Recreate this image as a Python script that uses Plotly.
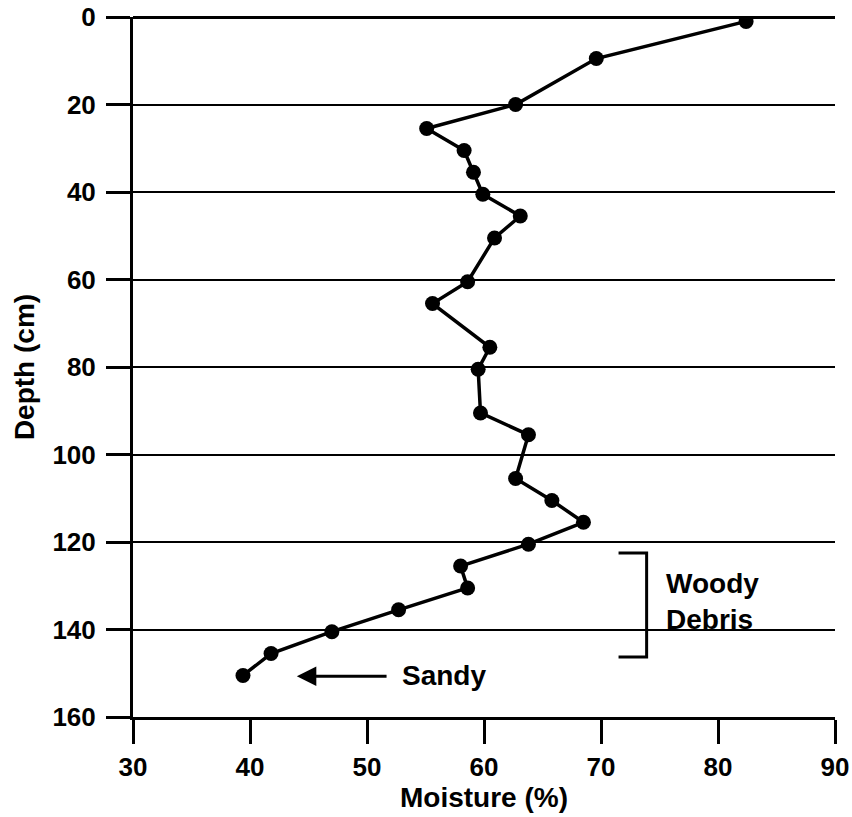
import plotly.graph_objects as go

# Soil moisture profile: depth below surface (cm) vs. moisture content (%)
depth_cm = [1, 9.5, 20, 25.5, 30.5, 35.5, 40.5, 45.5, 50.5, 60.5, 65.5, 75.5,
            80.5, 90.5, 95.5, 105.5, 110.5, 115.5, 120.5, 125.5, 130.5, 135.5,
            140.5, 145.5, 150.5]
moisture_pct = [82.4, 69.6, 62.7, 55.1, 58.3, 59.1, 59.9, 63.1, 60.9, 58.6, 55.6, 60.5,
                59.5, 59.7, 63.8, 62.7, 65.8, 68.5, 63.8, 58.0, 58.6, 52.7,
                47.0, 41.8, 39.4]

x_ticks = [30, 40, 50, 60, 70, 80, 90]
y_ticks = [0, 20, 40, 60, 80, 100, 120, 140, 160]

FONT = "Liberation Sans, Arial, sans-serif"
BLACK = "#000000"

fig = go.Figure()
fig.add_trace(go.Scatter(
    x=moisture_pct, y=depth_cm, mode="lines+markers",
    line=dict(color=BLACK, width=3.5),
    marker=dict(color=BLACK, size=15),
    showlegend=False, hoverinfo="x+y",
))

# Woody debris bracket
fig.add_shape(type="path", xref="x", yref="y",
              path="M 71.5,122.5 L 73.9,122.5 L 73.9,146.3 L 71.5,146.3",
              line=dict(color=BLACK, width=3))

fig.add_annotation(x=75.4, y=133.6, xref="x", yref="y",
                   text="<b>Woody<br>Debris</b>", showarrow=False,
                   xanchor="left", yanchor="middle", align="left",
                   font=dict(family=FONT, size=28, color=BLACK))

# Sandy layer marker
fig.add_annotation(x=44.0, y=150.7, ax=51.8, ay=150.7,
                   xref="x", yref="y", axref="x", ayref="y",
                   text="", showarrow=True, arrowhead=2, arrowsize=1.3,
                   arrowwidth=3, arrowcolor=BLACK)
fig.add_annotation(x=52.8, y=150.5, xref="x", yref="y",
                   text="<b>Sandy</b>", showarrow=False,
                   xanchor="left", yanchor="middle",
                   font=dict(family=FONT, size=28, color=BLACK))

tick_font = dict(family=FONT, size=26, color=BLACK, weight="bold")
title_font = dict(family=FONT, size=28, color=BLACK, weight="bold")

fig.update_xaxes(
    range=[30, 90], tickvals=x_ticks, ticktext=[str(v) for v in x_ticks],
    showgrid=False, zeroline=False, automargin=False,
    showline=True, linecolor=BLACK, linewidth=3, mirror=False,
    ticks="outside", ticklen=24, tickwidth=3, tickcolor=BLACK,
    tickfont=tick_font, ticklabelstandoff=1,
    title=dict(text="Moisture (%)", font=title_font, standoff=4),
)
fig.update_yaxes(
    range=[160, 0], tickvals=y_ticks, ticktext=[str(v) for v in y_ticks],
    showgrid=True, gridcolor=BLACK, gridwidth=2,
    zeroline=True, zerolinecolor=BLACK, zerolinewidth=3,
    showline=True, linecolor=BLACK, linewidth=3, automargin=False,
    ticks="outside", ticklen=24, tickwidth=3, tickcolor=BLACK,
    tickfont=tick_font, ticklabelstandoff=5,
    title=dict(text="Depth (cm)", font=title_font, standoff=10),
)

fig.update_layout(
    width=852, height=817,
    margin=dict(l=133, r=17, t=17, b=100, autoexpand=False),
    paper_bgcolor="white", plot_bgcolor="white",
    font=dict(family=FONT, color=BLACK),
)

fig.write_html("out.html")
